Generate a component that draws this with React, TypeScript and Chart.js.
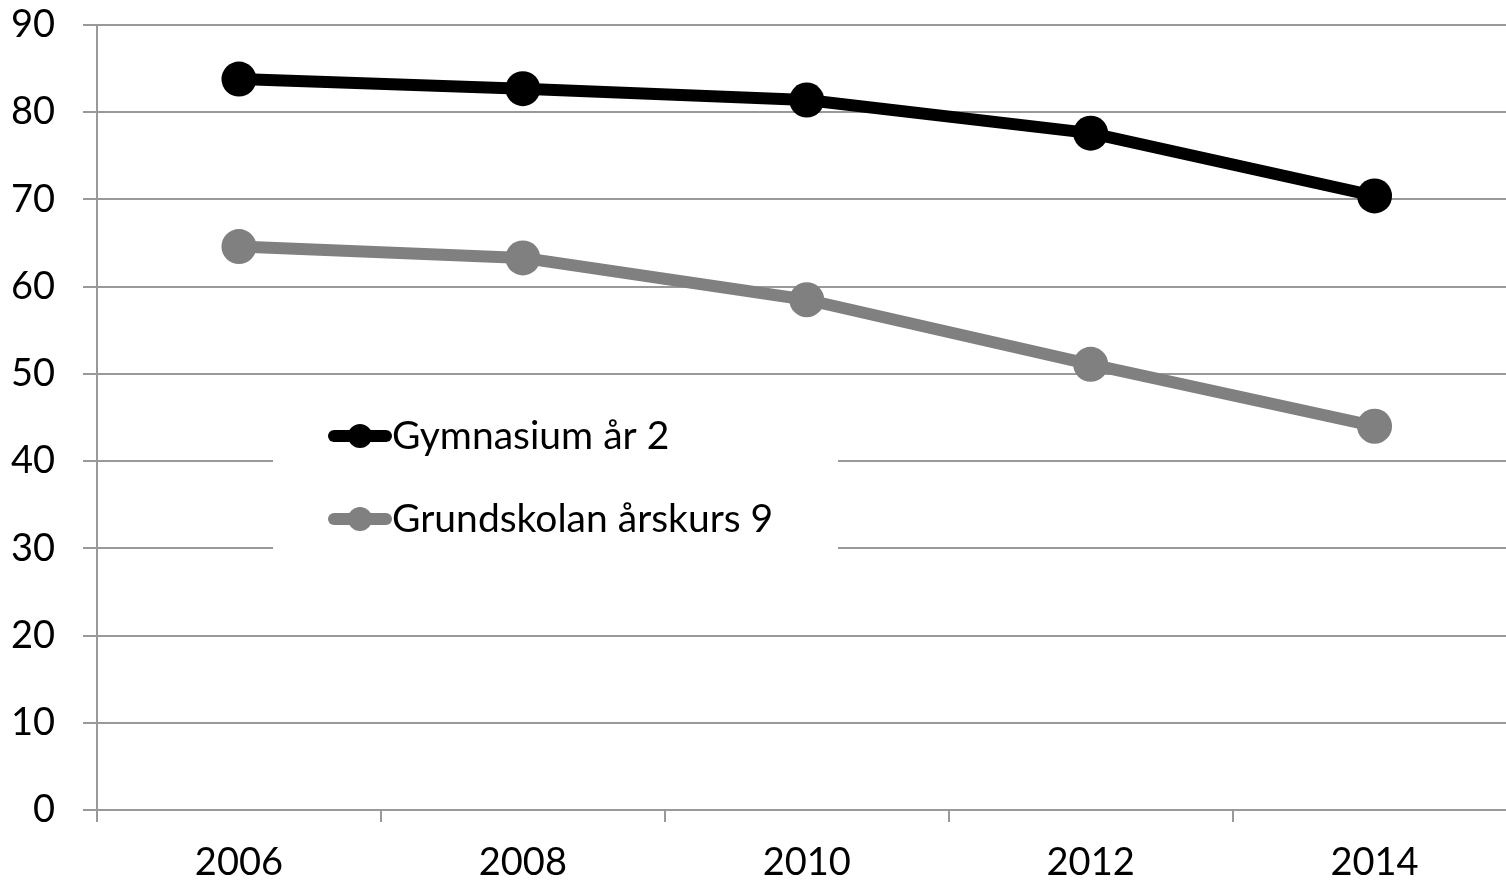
import React, { useEffect, useRef } from "react";
import { Chart, registerables } from "chart.js";

Chart.register(...registerables);

const years = ["2006", "2008", "2010", "2012", "2014"];
const gymnasium = [83.8, 82.7, 81.4, 77.6, 70.4];
const grundskolan = [64.6, 63.3, 58.5, 51.1, 44.0];
const seriesNames = ["Gymnasium år 2", "Grundskolan årskurs 9"];
const seriesColors = ["#000000", "#808080"];

const FONT = "Lato, 'Open Sans', sans-serif";

const legendPlugin = {
  id: "insideLegend",
  afterDatasetsDraw(chart: any) {
    const ctx = chart.ctx;
    ctx.save();
    ctx.fillStyle = "#ffffff";
    ctx.fillRect(273, 388, 565, 172);
    const rows = [436, 519];
    seriesNames.forEach((name, i) => {
      const y = rows[i];
      ctx.strokeStyle = seriesColors[i];
      ctx.lineWidth = 12;
      ctx.lineCap = "round";
      ctx.beginPath();
      ctx.moveTo(334, y);
      ctx.lineTo(386, y);
      ctx.stroke();
      ctx.fillStyle = seriesColors[i];
      ctx.beginPath();
      ctx.arc(360, y, 12, 0, Math.PI * 2);
      ctx.fill();
      ctx.fillStyle = "#000000";
      ctx.font = `39px ${FONT}`;
      ctx.textAlign = "left";
      ctx.textBaseline = "middle";
      ctx.fillText(name, 392, y);
    });
    ctx.restore();
  },
};

export default function App() {
  const ref = useRef<HTMLCanvasElement>(null);
  useEffect(() => {
    if (!ref.current) return;
    const chart = new Chart(ref.current, {
      type: "line",
      data: {
        labels: years,
        datasets: [
          {
            label: seriesNames[0],
            data: gymnasium,
            borderColor: seriesColors[0],
            backgroundColor: seriesColors[0],
            borderWidth: 12,
            pointRadius: 17.5,
            pointBorderWidth: 0,
            pointBackgroundColor: seriesColors[0],
            borderJoinStyle: "round",
            tension: 0,
          },
          {
            label: seriesNames[1],
            data: grundskolan,
            borderColor: seriesColors[1],
            backgroundColor: seriesColors[1],
            borderWidth: 12,
            pointRadius: 17.5,
            pointBorderWidth: 0,
            pointBackgroundColor: seriesColors[1],
            borderJoinStyle: "round",
            tension: 0,
          },
        ],
      },
      options: {
        animation: false,
        responsive: false,
        maintainAspectRatio: false,
        layout: { padding: { left: 0, right: 9, top: 25, bottom: 0 } },
        plugins: { legend: { display: false }, tooltip: { enabled: false } },
        scales: {
          x: {
            offset: true,
            grid: {
              offset: true,
              drawOnChartArea: false,
              drawTicks: true,
              tickLength: 12,
              color: "#999999",
              lineWidth: 2,
            },
            border: { display: true, color: "#999999", width: 2 },
            ticks: {
              color: "#000000",
              font: { family: FONT, size: 38 },
              padding: 18,
              maxRotation: 0,
            },
            afterFit: (s: any) => {
              s.height = 73;
              s.paddingLeft = 0;
              s.paddingRight = 0;
            },
          },
          y: {
            min: 0,
            max: 90,
            grid: {
              color: "#999999",
              lineWidth: 2,
              drawTicks: true,
              tickLength: 14,
            },
            border: { display: true, color: "#999999", width: 2 },
            ticks: {
              stepSize: 10,
              color: "#000000",
              font: { family: FONT, size: 38 },
              padding: 28,
            },
            afterFit: (s: any) => {
              s.width = 97;
              s.paddingTop = 0;
              s.paddingBottom = 0;
            },
          },
        },
      },
      plugins: [legendPlugin],
    });
    return () => chart.destroy();
  }, []);
  return (
    <div
      style={{
        position: "fixed",
        left: 0,
        top: 0,
        width: 1506,
        height: 883,
        overflow: "hidden",
        background: "#fff",
      }}
    >
      <canvas ref={ref} width={1534} height={883} style={{ display: "block" }} />
    </div>
  );
}
